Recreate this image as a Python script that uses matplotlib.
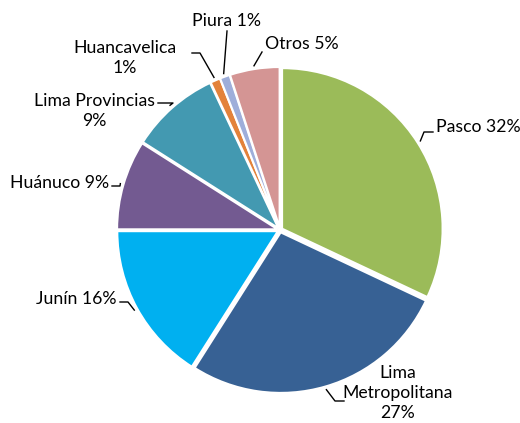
import matplotlib
matplotlib.use('Agg')
import matplotlib.pyplot as plt
import numpy as np

# data
labels = ['Pasco', 'Lima\nMetropolitana\n', 'Junín', 'Huánuco', 'Lima Provincias\n',
          'Huancavelica\n', 'Piura', 'Otros']
values = [32, 27, 16, 9, 9, 1, 1, 5]
colors = ['#9BBB59', '#376194', '#00B0F0', '#735A91', '#4399B1',
          '#E3823A', '#9EAEDA', '#D49594']

plt.rcParams['font.family'] = ['Lato', 'DejaVu Sans']

W, H = 520, 423
cx, cy, s = 280, 230, 163.0   # pie centre in pixels, pixels per unit

fig = plt.figure(figsize=(W / 100, H / 100), dpi=100)
ax = fig.add_axes([0, 0, 1, 1])

wedges, _ = ax.pie(values, colors=colors, startangle=90, counterclock=False,
                   radius=0.985, explode=[0.015] * len(values),
                   wedgeprops=dict(edgecolor='white', linewidth=1.5))


def px(x, y):
    return (x - cx) / s, (cy - y) / s


# text position (px), alignment, leader points after the wedge (px)
layout = [
    ((436, 127), 'left', [(424, 132), (433, 132)]),
    ((398, 393), 'center', [(335, 401), (344, 401)]),
    ((117, 299), 'right', [(128, 302), (120, 302)]),
    ((109, 183), 'right', [(120, 186), (112, 186)]),
    ((94, 111), 'center', [(173, 103), (158, 103)]),
    ((125, 58), 'center', [(200, 53), (192, 53)]),
    ((227, 21), 'center', [(227, 31)]),
    ((265, 44), 'left', [(262, 52)]),
]

for w, lab, v, (tpos, ha, leader) in zip(wedges, labels, values, layout):
    ang = np.deg2rad((w.theta1 + w.theta2) / 2)
    r = w.r + 0.02
    ox, oy = w.center
    p0 = (ox + r * np.cos(ang), oy + r * np.sin(ang))
    tx, ty = px(*tpos)
    if lab.endswith('\n'):
        txt = lab + '%d%%' % v
    else:
        txt = lab + ' %d%%' % v
    ax.text(tx, ty, txt, ha=ha, va='center', fontsize=12.7, color='black',
            linespacing=1.32)
    pts = [p0] + [px(*p) for p in leader]
    xs, ys = zip(*pts)
    ax.plot(xs, ys, color='black', lw=1)

ax.set_xlim(-cx / s, (W - cx) / s)
ax.set_ylim(-(H - cy) / s, cy / s)
ax.set_aspect('equal')
ax.axis('off')

fig.savefig('out.png', dpi=100)
